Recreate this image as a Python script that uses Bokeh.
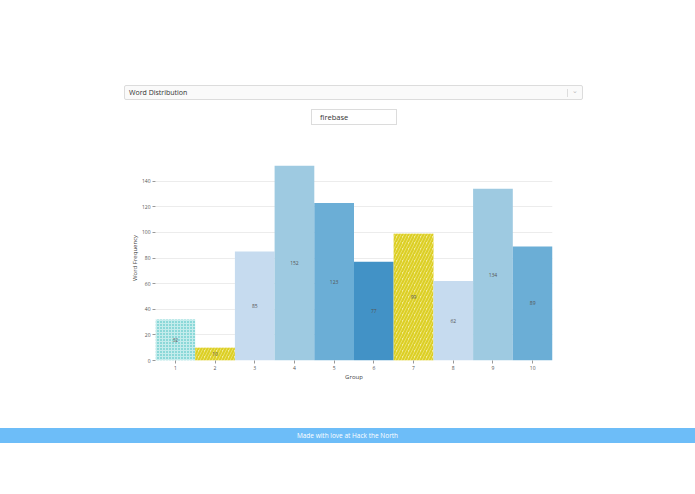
from bokeh.plotting import figure
from bokeh.models import ColumnDataSource, Div, FixedTicker, LabelSet
from bokeh.layouts import column
from bokeh.embed import file_html
from bokeh.resources import INLINE
from bokeh.core.properties import value

groups = [1, 2, 3, 4, 5, 6, 7, 8, 9, 10]
frequencies = [32, 10, 85, 152, 123, 77, 99, 62, 134, 89]
fill_colors = ["#c4ecec", "#f3ec9a", "#c6dbef", "#9ecae1", "#6baed6",
               "#4292c6", "#f3ec9a", "#c6dbef", "#9ecae1", "#6baed6"]
hatch_patterns = ["dot", "right_diagonal_line", " ", " ", " ", " ",
                  "right_diagonal_line", " ", " ", " "]
hatch_colors = ["#33b8b8", "#dccf25", "#000000", "#000000", "#000000",
                "#000000", "#dccf25", "#000000", "#000000", "#000000"]
hatch_scales = [3, 6, 1, 1, 1, 1, 6, 1, 1, 1]
hatch_weights = [2, 2.2, 1, 1, 1, 1, 2.2, 1, 1, 1]
y_ticks = [0, 20, 40, 60, 80, 100, 120, 140]

FONT = "Open Sans"

src = ColumnDataSource(dict(
    x=groups, top=frequencies, mid=[f / 2 for f in frequencies],
    lab=[str(f) for f in frequencies], fill=fill_colors,
    hp=hatch_patterns, hc=hatch_colors, hs=hatch_scales, hw=hatch_weights,
))

top_div = Div(width=695, height=140, margin=0, text="""
<div style="position:relative;width:695px;height:140px;font-family:'Open Sans',sans-serif;">
  <div style="position:absolute;left:124px;top:85px;width:459px;height:15px;border:1px solid #dcdcdc;
       border-radius:2px;background:#fafafa;font-size:7px;color:#333;line-height:13px;box-sizing:border-box;padding-left:4px;">
    Word Distribution
    <span style="position:absolute;right:14px;top:3px;width:1px;height:8px;background:#ddd;"></span>
    <span style="position:absolute;right:4px;top:-2px;color:#bbb;font-size:7px;">&#8964;</span>
  </div>
  <div style="position:absolute;left:311px;top:109px;width:86px;height:16px;border:1px solid #dcdcdc;
       background:#fff;font-size:7.5px;color:#333;line-height:14px;box-sizing:border-box;padding-left:8px;">
    firebase
  </div>
</div>
""")

p = figure(width=695, height=260, output_backend="svg", toolbar_location=None,
           x_range=(0.5, 10.5), y_range=(0, 160), margin=0,
           min_border_left=155, min_border_right=143,
           min_border_top=15, min_border_bottom=40)
p.outline_line_color = None
p.background_fill_color = "#ffffff"

p.vbar(x="x", top="top", bottom=0, width=1, source=src,
       fill_color="fill", line_color=None,
       hatch_pattern="hp", hatch_color="hc", hatch_scale="hs", hatch_weight="hw")

labels = LabelSet(x="x", y="mid", text="lab", source=src,
                  text_align="center", text_baseline="middle",
                  text_font_size="5px", text_color="#555555",
                  text_font=value(FONT))
p.add_layout(labels)

p.xaxis.ticker = FixedTicker(ticks=groups)
p.yaxis.ticker = FixedTicker(ticks=y_ticks)
for ax in (p.xaxis, p.yaxis):
    ax.axis_line_color = None
    ax.major_tick_line_color = "#999999"
    ax.major_tick_out = 3
    ax.major_tick_in = 0
    ax.minor_tick_line_color = None
    ax.major_label_text_font_size = "5px"
    ax.major_label_text_color = "#555555"
    ax.major_label_text_font = FONT
    ax.major_label_standoff = 2
    ax.axis_label_text_font_size = "6px"
    ax.axis_label_text_font_style = "normal"
    ax.axis_label_text_color = "#444444"
    ax.axis_label_text_font = FONT
    ax.axis_label_standoff = 0
p.xaxis.axis_label = "Group"
p.yaxis.axis_label = "Word Frequency"
p.xgrid.grid_line_color = None
p.ygrid.grid_line_color = "#ececec"
p.ygrid.ticker = FixedTicker(ticks=y_ticks)

footer = Div(width=695, height=60, margin=0, text="""
<div style="position:relative;width:695px;height:60px;font-family:'Open Sans',sans-serif;">
  <div style="position:absolute;left:0px;top:28px;width:695px;height:15px;background:#6dbdf8;
       color:#ffffff;font-size:6.5px;text-align:center;line-height:15px;">
    Made with love at Hack the North
  </div>
</div>
""")

layout = column(top_div, p, footer, spacing=0)
open("out.html", "w").write(file_html(layout, INLINE))
